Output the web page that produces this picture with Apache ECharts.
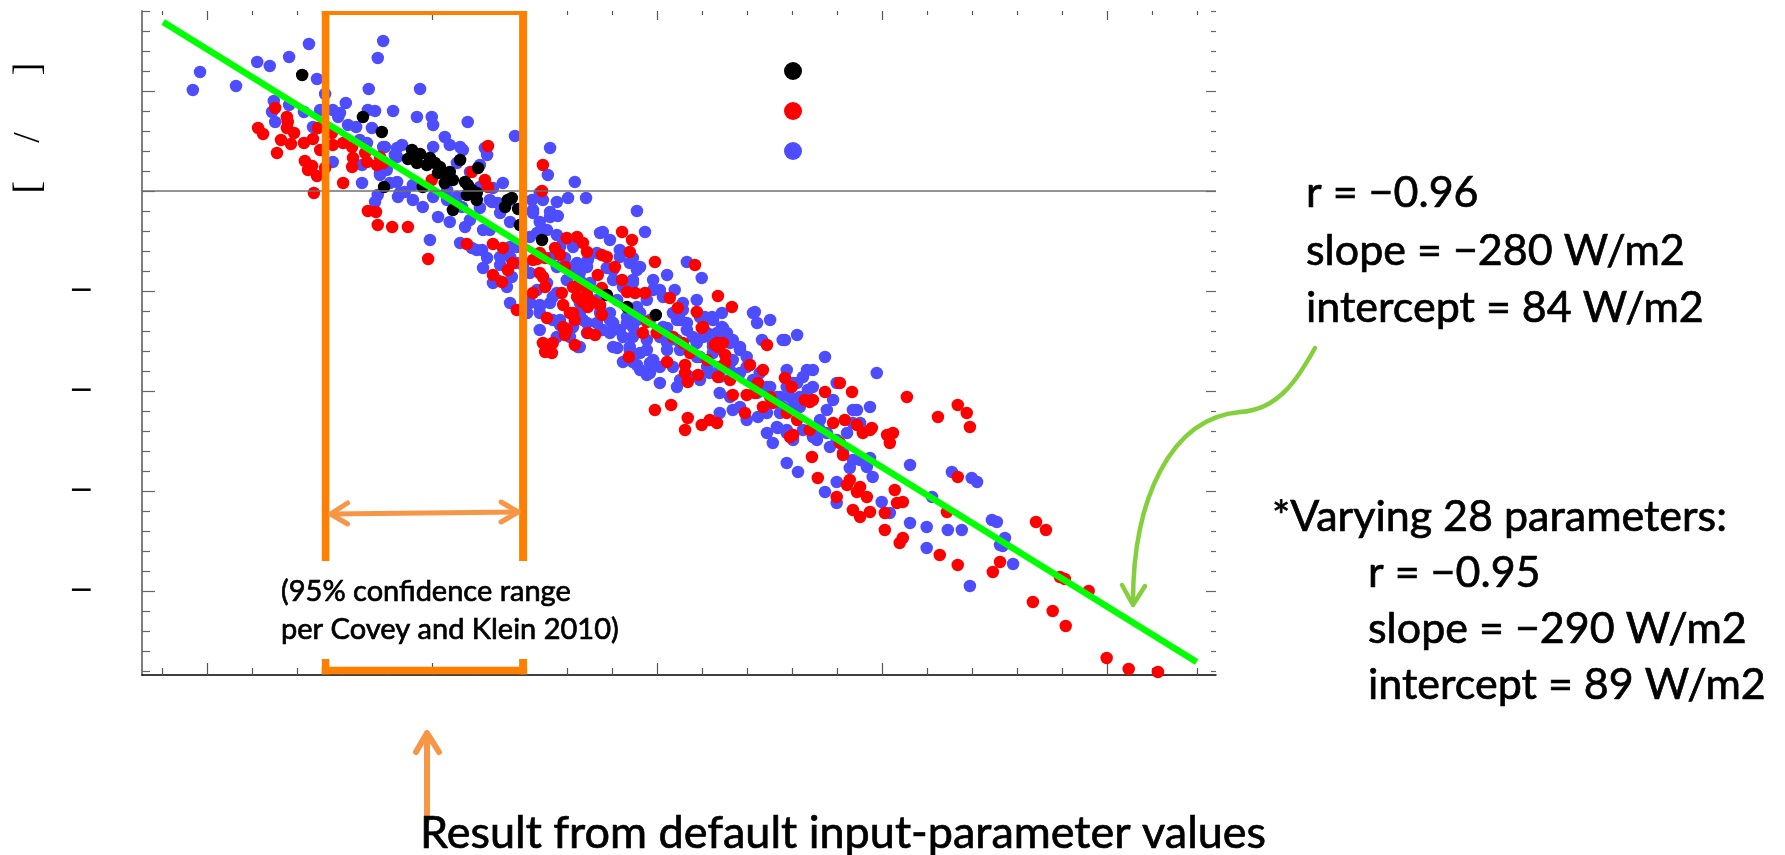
<!DOCTYPE html>
<html lang="en">

<head>
    <meta charset="UTF-8">
    <title>Parameter ensemble scatter</title>
    <script src="https://cdn.jsdelivr.net/npm/echarts@6.0.0/dist/echarts.min.js"></script>
    <style>
        body { margin: 0; background: #fff; }
    </style>
</head>

<body>
    <div id="main" style="width: 1785px;height:855px;"></div>
    <script>
        // axis extents and tick positions (tick labels are missing in the original, only the minus signs show)
        const xMin = 0.2354, xMax = 0.4741;
        const yMin = -48.4, yMax = 18.0;
        const xMajorTicks = [0.25, 0.30, 0.35, 0.40, 0.45];
        const xMinorTicks = [0.24, 0.26, 0.27, 0.28, 0.29, 0.31, 0.32, 0.33, 0.34, 0.36, 0.37, 0.38, 0.39,
            0.41, 0.42, 0.43, 0.44, 0.46, 0.47];
        const yMajorTicks = [-40, -30, -20, -10, 0, 10];
        const yMinorTicks = [-48, -46, -44, -42, -38, -36, -34, -32, -28, -26, -24, -22, -18, -16, -14, -12,
            -8, -6, -4, -2, 2, 4, 6, 8, 12, 14, 16, 18];
        const yLabelTicks = [-40, -30, -20, -10];

        // regression line end points and the confidence range box
        const fitLine = [[0.2401, 16.9], [0.4698, -47.1]];
        const confRange = [0.2762, 0.3201];

        const seriesNames = ['Default', 'Set A', 'Set B'];

        const blackPoints = [
            [0.2710, 11.6], [0.2845, 7.4], [0.2887, 5.9], [0.2892, 0.4], [0.2954, 4.1], [0.2972, 3.7], [0.2945, 3.2],
            [0.2965, 2.8], [0.2987, 2.6], [0.3005, 2.8], [0.3016, 2.4], [0.3012, 1.8], [0.3032, 1.6], [0.3027, 0.8],
            [0.3045, 1.1], [0.3061, 3.1], [0.3072, 0.9], [0.3078, 0.6], [0.3076, -0.4], [0.3098, -0.2], [0.3098, -0.9],
            [0.3101, 2.3], [0.2978, 0.4], [0.3045, -1.9], [0.3167, -0.9], [0.3161, -1.6], [0.3176, -0.7], [0.3190, -1.8],
            [0.3194, -3.4], [0.3243, -4.9], [0.3387, -10.4], [0.3432, -11.6], [0.3496, -12.4], [0.2994, 3.3],
            [0.3038, 1.9], [0.3087, 0.1], [0.2961, 3.4]
        ];

        const redPoints = [
            [0.2650, 8.3], [0.2676, 7.4], [0.2678, 6.9], [0.2676, 6.3], [0.2692, 5.8], [0.2612, 6.3], [0.2623, 5.7],
            [0.2663, 5.1], [0.2685, 4.7], [0.2714, 4.8], [0.2734, 5.2], [0.2745, 6.3], [0.2776, 5.8], [0.2778, 4.6],
            [0.2801, 4.8], [0.2821, 4.4], [0.2823, 3.3], [0.2821, 2.4], [0.2750, 4.1], [0.2654, 3.8], [0.2716, 3.0],
            [0.2732, 2.5], [0.2723, 2.1], [0.2743, 1.5], [0.2761, 2.3], [0.2801, 0.8], [0.2736, -0.2], [0.2850, 3.8],
            [0.2854, 2.9], [0.2883, 3.4], [0.2890, 2.8], [0.2876, 2.6], [0.2856, -2.0], [0.2874, -2.1], [0.2878, -3.4],
            [0.2910, -3.6], [0.3123, 4.5], [0.3087, 1.9], [0.3116, 1.1], [0.3123, 0.4], [0.2998, 1.1], [0.2945, -3.6],
            [0.2990, -6.8], [0.3076, -5.3], [0.3134, -5.3], [0.3156, -5.7], [0.3178, -7.2], [0.3167, -7.9],
            [0.3134, -8.4], [0.3154, -9.1], [0.3187, -11.9], [0.3245, 2.6], [0.3243, 0.0], [0.3238, -6.2],
            [0.3232, -6.8], [0.3250, -6.7], [0.3238, -8.2], [0.3245, -8.6], [0.3223, -10.2], [0.3250, -9.6],
            [0.3254, -12.7], [0.3272, -5.7], [0.3283, -6.4], [0.3298, -4.7], [0.3321, -4.6], [0.3334, -5.2],
            [0.3343, -6.1], [0.3294, -7.6], [0.3287, -10.2], [0.3290, -11.4], [0.3312, -12.2], [0.3316, -12.9],
            [0.3321, -9.6], [0.3332, -9.4], [0.3343, -10.4], [0.3356, -11.1], [0.3372, -11.4], [0.3367, -8.4],
            [0.3376, -12.4], [0.3376, -6.4], [0.3387, -6.6], [0.3405, -7.6], [0.3421, -4.1], [0.3443, -4.9],
            [0.3438, -6.1], [0.3421, -8.9], [0.3432, -10.1], [0.3450, -10.2], [0.3472, -10.2], [0.3494, -7.1],
            [0.3527, -10.7], [0.3545, -11.7], [0.3587, -12.1], [0.3598, -13.7], [0.3583, -7.4], [0.3634, -10.5],
            [0.3665, -11.6], [0.3476, -13.1], [0.3467, -14.2], [0.3498, -14.2], [0.3534, -14.6], [0.3556, -15.2],
            [0.3632, -15.2], [0.3645, -15.2], [0.3743, -15.4], [0.3245, -15.2], [0.3267, -15.2], [0.3298, -13.9],
            [0.3345, -14.2], [0.3361, -14.4], [0.3223, -6.9], [0.3312, -9.6], [0.3321, -10.6], [0.3332, -11.1],
            [0.3345, -11.6], [0.3376, -9.7], [0.3290, -13.6], [0.3294, -14.4], [0.3316, -15.4], [0.3250, -16.1],
            [0.3265, -16.2], [0.3572, -16.2], [0.3601, -13.6], [0.3627, -15.4], [0.3650, -16.4], [0.3650, -17.2],
            [0.3610, -16.9], [0.3561, -17.4], [0.3561, -18.2], [0.3567, -19.1], [0.3590, -18.4], [0.3634, -18.6],
            [0.3661, -18.9], [0.3667, -20.4], [0.3694, -22.2], [0.3705, -17.4], [0.3723, -19.2], [0.3716, -20.2],
            [0.3698, -20.4], [0.3734, -17.9], [0.3750, -20.6], [0.3734, -21.6], [0.3756, -21.2], [0.3783, -18.7],
            [0.3798, -19.6], [0.3787, -22.2], [0.3810, -22.9], [0.3838, -21.1], [0.3872, -20.1], [0.3905, -19.2],
            [0.3932, -20.1], [0.3890, -23.2], [0.3916, -22.9], [0.3943, -23.4], [0.3972, -23.9], [0.3956, -24.2],
            [0.3494, -21.9], [0.3530, -21.4], [0.3567, -22.7], [0.3561, -23.9], [0.3598, -23.4], [0.3616, -22.9],
            [0.3632, -23.2], [0.3801, -24.4], [0.3838, -23.9], [0.3521, -17.1], [0.3436, -16.6], [0.3305, -12.2],
            [0.3634, -15.6], [0.3827, -20.9], [0.3845, -20.9], [0.3794, -24.6], [0.3843, -26.6], [0.3856, -28.7],
            [0.3976, -23.7], [0.3905, -25.2], [0.3912, -26.4], [0.3898, -30.6], [0.3927, -28.9], [0.3921, -29.4],
            [0.3950, -29.6], [0.3943, -30.1], [0.3965, -30.6], [0.3934, -31.9], [0.3950, -32.6], [0.3972, -32.1],
            [0.4005, -32.2], [0.4005, -33.9], [0.4027, -29.9], [0.4032, -31.2], [0.4045, -31.1], [0.4010, -24.4],
            [0.4023, -24.2], [0.4016, -25.2], [0.4054, -20.6], [0.4123, -22.6], [0.4167, -21.4], [0.4187, -22.2],
            [0.4194, -23.6], [0.4167, -28.6], [0.4143, -32.1], [0.4045, -34.7], [0.4038, -35.2], [0.4127, -36.4],
            [0.4167, -37.4], [0.4245, -38.1], [0.4261, -37.1], [0.4341, -33.1], [0.4363, -33.9], [0.4334, -41.1],
            [0.4378, -42.0], [0.4407, -43.5], [0.4394, -38.6], [0.4405, -38.8], [0.4458, -40.0], [0.4498, -46.7],
            [0.4547, -47.8], [0.4612, -48.1]
        ];

        const bluePoints = [
            [0.2483, 11.9], [0.2467, 10.1], [0.2563, 10.5], [0.2610, 12.9], [0.2638, 12.5], [0.2681, 13.4], [0.2725, 14.7],
            [0.2743, 11.2], [0.2761, 9.7], [0.2647, 9.0], [0.2643, 7.9], [0.2681, 8.6], [0.2650, 6.9], [0.2714, 7.9],
            [0.2734, 6.4], [0.2778, 8.1], [0.2807, 8.8], [0.2790, 7.4], [0.2812, 6.6], [0.2830, 6.4], [0.2858, 10.2],
            [0.2890, 15.0], [0.2878, 13.3], [0.2856, 8.1], [0.2872, 8.0], [0.2912, 8.0], [0.2865, 6.3], [0.2838, 5.1],
            [0.2854, 4.8], [0.2894, 4.4], [0.2921, 4.3], [0.2921, 3.4], [0.2898, 2.1], [0.2883, 1.6], [0.2843, 2.6],
            [0.2778, 2.9], [0.2843, 0.8], [0.2921, 0.9], [0.2878, -0.4], [0.2872, -1.1], [0.2923, -0.6], [0.2750, 8.1],
            [0.2972, 10.2], [0.2794, 7.8], [0.2965, 7.4], [0.2998, 7.4], [0.3078, 6.9],
            [0.3001, 6.6], [0.3027, 5.4], [0.3038, 4.6], [0.3061, 4.4], [0.3067, 4.1], [0.3001, 4.4], [0.2932, 4.6],
            [0.2916, 3.6], [0.2890, 4.4], [0.3116, 4.3], [0.3183, 5.5], [0.3121, 3.6], [0.3105, 2.6], [0.2927, -0.2],
            [0.2956, 0.6], [0.2956, -0.9], [0.2978, -1.6], [0.3012, -2.6], [0.3038, -3.1], [0.3065, -1.6], [0.3083, -2.9],
            [0.3072, -3.6], [0.3105, -1.7], [0.3127, -3.9], [0.3150, -2.2], [0.3156, 0.8], [0.3172, -0.9], [0.3172, -3.1],
            [0.2994, -4.9], [0.3061, -5.2], [0.3087, -5.7], [0.3110, -5.9], [0.3121, -6.7], [0.3150, -6.6], [0.3172, -5.6],
            [0.3187, -7.2], [0.3176, -8.6], [0.3134, -9.2], [0.3165, -9.6], [0.3112, -7.7], [0.3221, -0.9], [0.3223, -1.9],
            [0.3245, -0.9], [0.3261, 4.3], [0.3256, 1.6], [0.3276, -1.1], [0.3261, -2.6], [0.3278, -2.5], [0.3254, -3.9],
            [0.3290, -4.9], [0.3232, -4.2], [0.3301, -0.7], [0.3316, 0.9], [0.3341, -0.7], [0.3238, -0.2], [0.3312, -5.6],
            [0.3294, -6.7], [0.3312, -7.6], [0.3327, -8.2], [0.3345, -6.9], [0.3372, -4.2], [0.3394, -4.9], [0.3454, -2.0],
            [0.3472, -4.1], [0.3416, -5.9], [0.3438, -7.2], [0.3461, -7.6], [0.3445, -8.9], [0.3401, -7.9], [0.3490, -9.9],
            [0.3512, -10.6], [0.3521, -8.4], [0.3565, -7.1], [0.3598, -8.7], [0.3538, -9.9], [0.3587, -10.9],
            [0.3605, -12.6], [0.3645, -13.7], [0.3643, -12.2], [0.3623, -15.2], [0.3716, -12.1], [0.3721, -13.2],
            [0.3750, -12.9], [0.3783, -14.9], [0.3810, -14.4], [0.3732, -14.9], [0.3667, -14.9], [0.3556, -11.9],
            [0.3543, -12.9], [0.3521, -13.7], [0.3454, -11.6], [0.3432, -12.6], [0.3394, -12.2], [0.3365, -10.9],
            [0.3343, -9.9], [0.3327, -12.6], [0.3305, -13.9], [0.3267, -12.9], [0.3276, -10.2], [0.3298, -8.9],
            [0.3232, -9.9], [0.3216, -11.2], [0.3238, -12.2], [0.3216, -8.2], [0.3238, -13.9], [0.3343, -14.2],
            [0.3401, -13.9], [0.3445, -13.6],
            [0.2883, 1.8], [0.2905, 0.8], [0.2938, -0.1], [0.3001, -0.6], [0.3032, -0.9], [0.3054, -0.6], [0.3032, 0.1],
            [0.3134, 0.3], [0.3127, -0.9], [0.3145, -1.2], [0.3105, 0.4], [0.3054, 2.8], [0.3083, 1.9],
            [0.3112, -3.9], [0.3098, -5.9], [0.3150, -7.4], [0.3172, -6.6], [0.3132, -1.1], [0.3223, -2.2], [0.3261, -2.1],
            [0.3238, -3.1], [0.3216, -4.6], [0.3187, -5.6], [0.3201, -7.4], [0.3143, -8.9], [0.3210, -10.6], [0.3238, -11.6],
            [0.3267, -10.6], [0.3254, -9.2], [0.3276, -7.6], [0.3261, -6.7], [0.3298, -7.6], [0.3276, -4.4], [0.3283, -5.6],
            [0.3321, -7.2], [0.3343, -7.6], [0.3327, -8.9], [0.3350, -9.2], [0.3378, -4.1], [0.3365, -6.2], [0.3387, -7.7],
            [0.3401, -8.9], [0.3423, -9.6], [0.3445, -9.2], [0.3454, -7.9], [0.3445, -6.7], [0.3416, -6.6], [0.3410, -10.9],
            [0.3432, -13.2], [0.3454, -12.9], [0.3476, -10.9], [0.3505, -9.9], [0.3490, -8.9], [0.3483, -12.9],
            [0.3512, -13.6], [0.3505, -14.6], [0.3476, -14.9], [0.3445, -14.6], [0.3423, -14.6], [0.3401, -13.2],
            [0.3378, -13.9], [0.3372, -12.2], [0.3343, -13.2], [0.3327, -12.2], [0.3312, -13.6], [0.3283, -12.9],
            [0.3276, -14.6], [0.3327, -15.6], [0.3410, -15.7], [0.3438, -15.9], [0.3476, -15.9], [0.3490, -16.9],
            [0.3521, -15.9], [0.3543, -14.9], [0.3565, -13.9], [0.3550, -12.9], [0.3534, -12.2], [0.3556, -11.2],
            [0.3621, -12.6], [0.3601, -12.9], [0.3643, -13.6], [0.3610, -14.2], [0.3587, -15.2], [0.3578, -16.2],
            [0.3594, -16.6], [0.3623, -16.2], [0.3661, -15.2], [0.3683, -15.9], [0.3712, -12.2], [0.3698, -16.6],
            [0.3705, -17.4], [0.3727, -18.2], [0.3683, -18.2], [0.3661, -17.2], [0.3638, -17.6], [0.3616, -18.2],
            [0.3594, -18.9], [0.3572, -18.6], [0.3550, -18.9], [0.3543, -19.6], [0.3534, -17.6], [0.3505, -17.6],
            [0.3505, -19.2], [0.3483, -18.2], [0.3461, -17.9], [0.3445, -17.1], [0.3423, -17.1], [0.3401, -15.6],
            [0.3638, -20.2], [0.3661, -20.6], [0.3683, -21.6], [0.3721, -20.2], [0.3750, -19.6], [0.3772, -20.6],
            [0.3787, -19.6], [0.3810, -19.2], [0.3823, -18.6], [0.3845, -17.9], [0.3834, -19.9], [0.3816, -20.6],
            [0.3801, -21.6], [0.3772, -22.2], [0.3743, -22.2], [0.3723, -22.6], [0.3698, -22.9], [0.3667, -21.9],
            [0.3638, -22.2], [0.3872, -16.6], [0.3898, -19.2], [0.3890, -20.9], [0.3876, -21.9], [0.3861, -22.9],
            [0.3934, -21.9], [0.3972, -21.6], [0.3987, -18.2], [0.3950, -23.2], [0.3743, -24.2], [0.3767, -23.7],
            [0.3787, -24.2], [0.3823, -23.9], [0.3921, -24.2], [0.3876, -24.2], [0.3845, -24.6],
            [0.3238, -11.4], [0.3283, -13.4], [0.3323, -15.6], [0.3454, -17.4], [0.3476, -18.4], [0.3521, -15.2],
            [0.3550, -15.9], [0.3578, -14.6], [0.3601, -14.6], [0.3565, -13.2], [0.3594, -12.6], [0.3623, -12.9],
            [0.3654, -14.2], [0.3623, -15.6], [0.3587, -16.6], [0.3610, -17.6], [0.3638, -18.6], [0.3667, -18.2],
            [0.3698, -17.6], [0.3683, -15.6], [0.3667, -16.9], [0.3712, -18.9], [0.3743, -19.6], [0.3765, -20.6],
            [0.3778, -21.6], [0.3794, -20.6], [0.3787, -17.9], [0.3778, -14.9], [0.3801, -19.2], [0.3832, -17.9],
            [0.3845, -19.6], [0.3823, -20.6], [0.3816, -21.6], [0.3943, -21.9], [0.3934, -23.2], [0.3861, -23.9],
            [0.3801, -24.9], [0.3787, -23.9], [0.3765, -23.6], [0.3756, -25.2], [0.3787, -27.2], [0.3812, -28.1],
            [0.3854, -24.9], [0.3883, -25.6], [0.3898, -24.9], [0.3912, -26.2], [0.3934, -26.9], [0.3927, -27.7],
            [0.3898, -29.1], [0.3872, -30.1], [0.3898, -31.2], [0.3950, -26.9], [0.3965, -27.6], [0.3978, -28.6],
            [0.3972, -26.7], [0.3998, -31.1], [0.4061, -27.4], [0.4061, -33.2], [0.4098, -33.6], [0.4110, -30.6],
            [0.4154, -28.1], [0.4198, -28.7], [0.4210, -29.1], [0.4145, -33.9], [0.4176, -33.9], [0.4098, -35.7],
            [0.4194, -39.5], [0.4243, -32.9], [0.4254, -33.1], [0.4261, -35.4], [0.4016, -32.2],
            [0.3172, -11.2], [0.3216, -11.1], [0.3210, -12.2], [0.3261, -11.2], [0.3327, -11.2], [0.3372, -11.6],
            [0.3394, -12.9], [0.3365, -13.2], [0.3334, -12.9], [0.3305, -14.6], [0.3394, -14.2], [0.3416, -13.9],
            [0.3438, -15.6], [0.3461, -16.2], [0.3483, -17.2], [0.3461, -12.2], [0.3632, -14.2],
            [0.4272, -34.7], [0.4267, -35.5], [0.4290, -37.3]
        ];

        const statsMain = ['r = \u22120.96', 'slope = \u2212280 W/m2', 'intercept = 84 W/m2'];
        const statsVaried = ['*Varying 28 parameters:', 'r = \u22120.95', 'slope = \u2212290 W/m2', 'intercept = 89 W/m2'];
        const boxNote = ['(95% confidence range', 'per Covey and Klein 2010)'];
        const bottomNote = 'Result from default input-parameter values';

        let myChart = echarts.init(document.getElementById('main'));

        function xAxisOf(pos, ticks, len, showLine) {
            return {
                type: 'value', position: pos, min: xMin, max: xMax, gridIndex: 0,
                axisLine: { show: showLine, onZero: false, lineStyle: { color: '#000', width: 1.5 } },
                axisTick: { show: true, inside: true, length: len, customValues: ticks, lineStyle: { color: '#555', width: 1.2 } },
                axisLabel: { show: false },
                splitLine: { show: false }
            };
        }
        function yAxisOf(pos, ticks, len, showLine) {
            return {
                type: 'value', position: pos, min: yMin, max: yMax, gridIndex: 0,
                axisLine: { show: showLine, onZero: false, lineStyle: { color: '#808080', width: 2 } },
                axisTick: { show: true, inside: true, length: len, customValues: ticks, lineStyle: { color: '#666', width: 1.2 } },
                axisLabel: { show: false },
                splitLine: { show: false }
            };
        }

        let yMain = yAxisOf('left', yMajorTicks, 13, true);
        yMain.axisLabel = {
            show: true, customValues: yLabelTicks, margin: 48,
            fontFamily: 'DejaVu Sans', fontSize: 30, color: '#000', padding: [3, 0, 0, 0],
            formatter: function (v) { return v < 0 ? '\u2212' : ''; }
        };

        let option = {
            animation: false,
            backgroundColor: '#fff',
            grid: { left: 142, top: 11, width: 1074, height: 664 },
            legend: {
                orient: 'vertical', left: 784, top: 62, padding: 0,
                itemWidth: 18, itemHeight: 18, itemGap: 22, icon: 'circle',
                data: [seriesNames[0], seriesNames[1], seriesNames[2]],
                formatter: function () { return ''; }
            },
            xAxis: [
                xAxisOf('bottom', xMajorTicks, 12, true),
                xAxisOf('bottom', xMinorTicks, 7, false),
                xAxisOf('top', xMajorTicks, 9, false),
                xAxisOf('top', xMinorTicks, 4, false)
            ],
            yAxis: [
                yMain,
                yAxisOf('left', yMinorTicks, 8, false),
                yAxisOf('right', yMajorTicks, 10, false),
                yAxisOf('right', yMinorTicks, 5, false)
            ],
            series: [
                {
                    name: 'fit', type: 'line', data: fitLine, symbol: 'none', silent: true,
                    lineStyle: { color: '#00ff00', width: 6.5, cap: 'butt' },
                    markLine: {
                        silent: true, symbol: 'none', label: { show: false },
                        lineStyle: { color: '#707070', width: 1.5, type: 'solid' },
                        data: [{ yAxis: 0 }]
                    }
                },
                { name: seriesNames[2], type: 'scatter', data: bluePoints, symbolSize: 12.5, itemStyle: { color: '#4d4dff', opacity: 1 } },
                { name: seriesNames[1], type: 'scatter', data: redPoints, symbolSize: 12.5, itemStyle: { color: '#ff0000', opacity: 1 } },
                { name: seriesNames[0], type: 'scatter', data: blackPoints, symbolSize: 12.5, itemStyle: { color: '#000000', opacity: 1 } }
            ]
        };
        myChart.setOption(option);

        // annotations on top of the plot
        const L = myChart.convertToPixel({ xAxisIndex: 0 }, confRange[0]);
        const R = myChart.convertToPixel({ xAxisIndex: 0 }, confRange[1]);
        const T = myChart.convertToPixel({ yAxisIndex: 0 }, yMax);
        const B = myChart.convertToPixel({ yAxisIndex: 0 }, yMin);

        const orange = '#ff8000', lightOrange = '#f79646', arrowGreen = '#84d03c';

        function bar(x, y, w, h) {
            return { type: 'rect', z: 100, shape: { x: x, y: y, width: w, height: h }, style: { fill: orange } };
        }
        function txt(text, x, y, size) {
            return {
                type: 'text', z: 100, x: x, y: y,
                style: {
                    text: text, font: size + 'px Lato', fill: '#000',
                    stroke: '#000', lineWidth: 0.7,
                    textAlign: 'left', align: 'left', textVerticalAlign: 'middle', verticalAlign: 'middle'
                }
            };
        }
        function stroke(type, shape, color, width) {
            return {
                type: type, z: 100, shape: shape,
                style: { stroke: color, lineWidth: width, fill: null, lineCap: 'round', lineJoin: 'round' }
            };
        }

        let elements = [
            bar(L - 3.8, T, 7.6, 561 - T), bar(L - 3.8, 659, 7.6, B - 0.7 - 659),
            bar(R - 4, T, 8, 561 - T), bar(R - 4, 659, 8, B - 0.7 - 659),
            bar(L - 3.8, T, R - L + 7.8, 4), bar(L - 3.8, B - 8.3, R - L + 7.8, 7.6),
            // double arrow inside the box
            stroke('line', { x1: L + 5, y1: 514, x2: R - 5, y2: 512 }, lightOrange, 5),
            stroke('polyline', { points: [[L + 22, 503], [L + 5, 514], [L + 22, 524]] }, lightOrange, 5),
            stroke('polyline', { points: [[R - 22, 502], [R - 5, 512], [R - 22, 522]] }, lightOrange, 5),
            // arrow pointing up at the default result
            stroke('line', { x1: 427, y1: 820, x2: 427, y2: 734 }, lightOrange, 6),
            stroke('polyline', { points: [[416, 752], [427, 733], [439, 752]] }, lightOrange, 6),
            // curved green arrow from the stats to the fit line
            stroke('bezierCurve', { x1: 1315, y1: 348, cpx1: 1300, cpy1: 375, cpx2: 1280, cpy2: 410, x2: 1240, y2: 412 }, arrowGreen, 4.5),
            stroke('bezierCurve', { x1: 1240, y1: 412, cpx1: 1170, cpy1: 418, cpx2: 1133, cpy2: 500, x2: 1133, y2: 602 }, arrowGreen, 4.5),
            stroke('polyline', { points: [[1122, 585], [1133, 605], [1145, 586]] }, arrowGreen, 4.5),
            // y axis name: only the brackets and slash are visible
            {
                type: 'text', z: 100, x: 29, y: 193.5, rotation: Math.PI / 2,
                style: {
                    text: '[    /      ]', font: '38px "Liberation Serif"', fill: '#000',
                    textAlign: 'left', align: 'left', textVerticalAlign: 'middle', verticalAlign: 'middle'
                }
            }
        ];

        const statsBase = [207, 265, 322];
        statsMain.forEach(function (s, i) { elements.push(txt(s, 1306, statsBase[i] - 14, 43)); });
        const variedBase = [531, 587, 643, 699];
        statsVaried.forEach(function (s, i) { elements.push(txt(s, i === 0 ? 1272 : 1368, variedBase[i] - 14, 43)); });
        elements.push(txt(boxNote[0], 281, 601 - 9.5, 29));
        elements.push(txt(boxNote[1], 281, 639 - 9.5, 29));
        elements.push(txt(bottomNote, 420, 848 - 14.5, 45));

        myChart.setOption({ graphic: { elements: elements } });
    </script>
</body>

</html>
